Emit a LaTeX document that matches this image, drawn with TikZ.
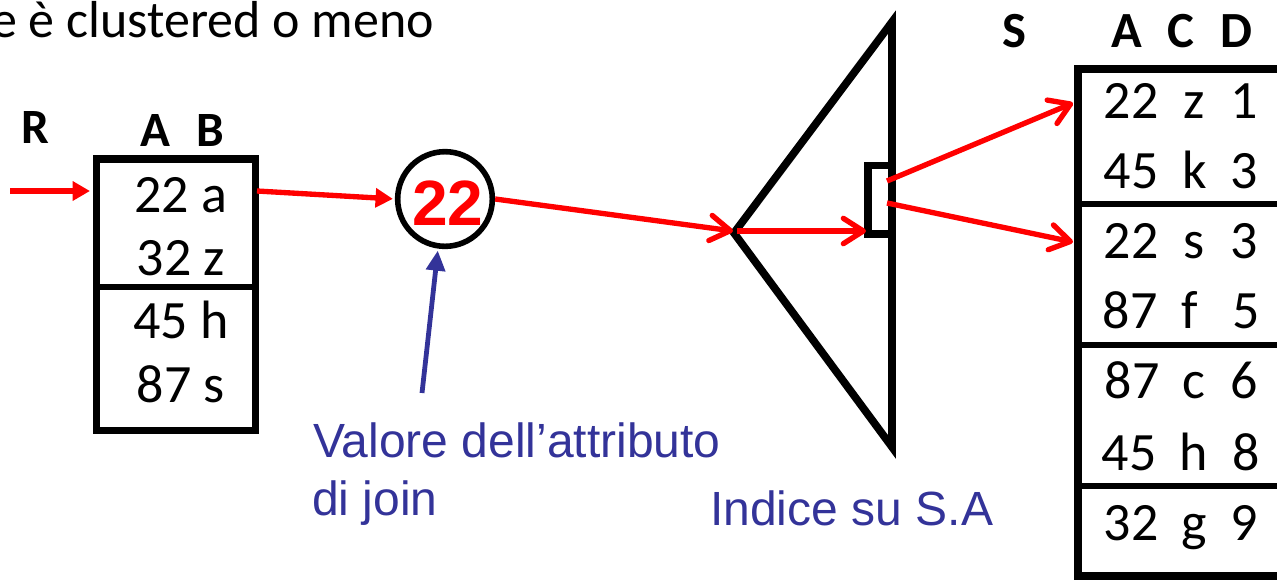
\documentclass[tikz,border=0pt]{standalone}
\usepackage{fontspec}
\setmainfont{Carlito}
\newfontfamily\bluefont{Liberation Sans}
\usetikzlibrary{arrows.meta}
\definecolor{myred}{RGB}{255,0,0}
\definecolor{myblue}{RGB}{51,51,153}
\begin{document}
\begin{tikzpicture}[x=0.75pt,y=-0.75pt,
  cell/.style={anchor=base,inner sep=0pt,font=\fontsize{40.5}{48}\selectfont},
  hdr/.style={anchor=base,inner sep=0pt,font=\fontsize{37}{44}\selectfont\bfseries},
  shdr/.style={anchor=base,inner sep=0pt,font=\fontsize{38}{45}\selectfont\bfseries},
  note/.style={anchor=base west,inner sep=0pt,text=myblue,font=\bluefont\fontsize{36}{43}\selectfont},
  box/.style={draw,line width=5.8pt},
  divider/.style={draw,line width=5.2pt},
  redarrow/.style={draw=myred,line width=4pt,-{Triangle[length=13pt,width=14pt]}},
  redbarb/.style={draw=myred,line width=4pt,-{Straight Barb[length=15pt,width=19pt,round]}},
  bluearrow/.style={draw=myblue,line width=3.6pt,-{Triangle[length=15pt,width=14pt]}},
]
\useasboundingbox (0,0) rectangle (1277,579);

% top text
\node[anchor=base east,inner sep=0pt,font=\fontsize{39}{46}\selectfont] (title) at (434,37) {e è clustered o meno};

% ---------- table R ----------
\node[hdr] (Rlab) at (35,143) {R};
\node[hdr] (RA) at (155,146) {A};
\node[hdr] (RB) at (210.5,146) {B};
\draw[box] (96.5,159) rectangle (255.5,430.5);
\draw[divider] (96.5,287) -- (255.5,287);
\node[cell] (r1) at (181,212) {22 a};
\node[cell] (r2) at (181,275) {32 z};
\node[cell] (r3) at (181,338) {45 h};
\node[cell] (r4) at (181,402) {87 s};

% ---------- circle ----------
\node[circle,draw,line width=4.2pt,minimum size=71pt,inner sep=0pt] (c22) at (445,199) {};
\node[anchor=base,inner sep=0pt,text=myred,font=\bluefont\bfseries\fontsize{48}{56}\selectfont] (v22) at (448,225) {22};

% ---------- index triangle ----------
\draw[box] (734,233) -- (892,22) -- (892,447) -- cycle;
\draw[box] (868,165.5) rectangle (892,234);

% ---------- table S ----------
\node[shdr] (Slab) at (1014.5,47) {S};
\node[shdr] (SA) at (1127,47) {A};
\node[shdr] (SC) at (1180.5,47) {C};
\node[shdr] (SD) at (1236,47) {D};
\draw[box] (1078,69) rectangle (1310,576);
\draw[divider] (1078,204) -- (1310,204);
\draw[divider] (1078,345) -- (1310,345);
\draw[divider] (1078,486) -- (1310,486);

\node[cell] (s1a) at (1131,118) {22}; \node[cell] (s1c) at (1194,118) {z}; \node[cell] (s1d) at (1244,118) {1};
\node[cell] (s2a) at (1131,188) {45}; \node[cell] (s2c) at (1195,188) {k}; \node[cell] (s2d) at (1244,188) {3};
\node[cell] (s3a) at (1131,258) {22}; \node[cell] (s3c) at (1194,258) {s}; \node[cell] (s3d) at (1244,258) {3};
\node[cell] (s4a) at (1130,328) {87}; \node[cell] (s4c) at (1190,328) {f}; \node[cell] (s4d) at (1246,328) {5};
\node[cell] (s5a) at (1132,398) {87}; \node[cell] (s5c) at (1194,398) {c}; \node[cell] (s5d) at (1244,398) {6};
\node[cell] (s6a) at (1129,470) {45}; \node[cell] (s6c) at (1194,470) {h}; \node[cell] (s6d) at (1246,470) {8};
\node[cell] (s7a) at (1131,540) {32}; \node[cell] (s7c) at (1194,540) {g}; \node[cell] (s7d) at (1244,540) {9};

% ---------- labels ----------
\node[note] (n1) at (313,457) {Valore dell’attributo};
\node[note] (n2) at (312,515) {di join};
\node[note] (n3) at (710,525) {Indice su S.A};

% ---------- connectors ----------
\coordinate (rin0) at (10,191);
\coordinate (rin1) at (90,191);
\coordinate (rout) at (257,191);
\coordinate (apexin) at (733,231);
\coordinate (apexout) at (737,231);
\coordinate (leaf) at (866,231);
\coordinate (p1) at (887,181);
\coordinate (p2) at (887,203);
\coordinate (t1) at (1073,103);
\coordinate (t2) at (1073,242);
\coordinate (bstart) at (422,393);

\draw[redarrow] (rin0) -- (rin1);
\draw[redarrow,shorten >=1.5pt] (rout) -- (c22.west);
\draw[redbarb] (c22.east) -- (apexin);
\draw[redbarb] (apexout) -- (leaf);
\draw[redbarb] (p1) -- (t1);
\draw[redbarb] (p2) -- (t2);
\draw[bluearrow,shorten >=1.5pt] (bstart) -- (c22.-98);
\end{tikzpicture}
\end{document}
